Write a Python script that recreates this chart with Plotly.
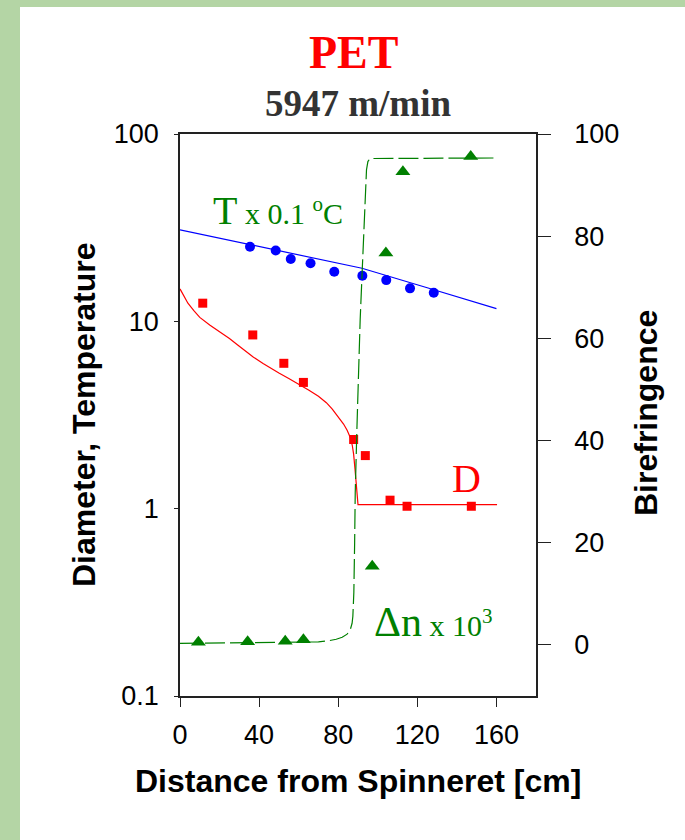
import plotly.graph_objects as go

# ---------------- data ----------------
# Temperature x 0.1 degC (left log axis)
temp_x = [35.4, 48.4, 56.0, 66.0, 78.0, 92.2, 104.3, 116.3, 128.3]
temp_y = [25.0, 23.9, 21.5, 20.4, 18.4, 17.5, 16.6, 15.0, 14.2]
temp_model_x = [0, 45, 92, 125, 160]
temp_model_y = [30.8, 24.4, 19.2, 15.1, 11.7]

# Diameter D (left log axis)
diam_x = [11.5, 36.8, 52.5, 62.4, 87.8, 93.7, 106.2, 114.8, 147.3]
diam_y = [12.5, 8.46, 5.97, 4.72, 2.34, 1.92, 1.11, 1.03, 1.03]
diam_model_x = [0, 2, 4, 7, 10, 15, 20, 25, 29, 33, 37, 42, 46, 50, 55, 60, 65, 70, 74,
                77, 80, 82.7, 84.5, 86.1, 87.1, 87.8, 88.5, 89.2, 89.7, 90, 160.3]
diam_model_y = [14.9, 13.6, 12.5, 11.4, 10.5, 9.55, 8.8, 8.1, 7.5, 6.95, 6.45, 5.95, 5.6,
                5.3, 4.95, 4.62, 4.3, 3.98, 3.68, 3.4, 3.1, 2.83, 2.62, 2.40, 2.18, 1.95,
                1.62, 1.30, 1.12, 1.05, 1.05]

# Birefringence x 10^3 (right axis)
bir_x = [9.3, 34.2, 53.2, 62.4, 97.2, 104.1, 112.7, 147.0]
bir_y = [0.5, 0.6, 0.7, 1.0, 15.4, 76.7, 92.6, 95.6]
bir_model_x = [0, 40, 60, 70, 75, 79, 82, 84.5, 86.1, 87.0, 87.4, 87.9, 88.3, 88.6, 89.5,
               90.4, 91.1, 92.2, 93.2, 93.6, 93.9, 94.3, 95.0, 96.0, 160.3]
bir_model_y = [0.3, 0.4, 0.45, 0.6, 0.8, 1.1, 1.5, 2.1, 3.0, 4.2, 5.6, 10.3, 20, 29.8, 43,
               55, 63.7, 73.9, 83.2, 87.5, 90.5, 93.0, 94.6, 95.2, 95.3]

x_ticks = [0, 40, 80, 120, 160]
left_ticks = [0.1, 1, 10, 100]
left_tick_text = ["0.1", "1", "10", "100"]
right_ticks = [0, 20, 40, 60, 80, 100]

# ---------------- layout geometry (pixels) ----------------
W, H = 685, 840
L, R, T, B = 180, 536, 134, 696
pw, ph = R - L, B - T


def px(x):
    return (x - L) / pw


def py(y):
    return (B - y) / ph


BLUE = "#0000ff"
RED = "#ff0000"
GREEN = "#008000"
AXC = "#222222"
SANS = "Arial, 'Liberation Sans', sans-serif"
SERIF = "'Times New Roman', 'Liberation Serif', serif"

fig = go.Figure()

fig.add_trace(go.Scatter(x=temp_model_x, y=temp_model_y, mode="lines",
                         line=dict(color=BLUE, width=1.2), showlegend=False))
fig.add_trace(go.Scatter(x=temp_x, y=temp_y, mode="markers",
                         marker=dict(color=BLUE, size=10, symbol="circle"), showlegend=False))
fig.add_trace(go.Scatter(x=diam_model_x, y=diam_model_y, mode="lines",
                         line=dict(color=RED, width=1.2), showlegend=False))
fig.add_trace(go.Scatter(x=diam_x, y=diam_y, mode="markers",
                         marker=dict(color=RED, size=9, symbol="square"), showlegend=False))
fig.add_trace(go.Scatter(x=bir_model_x, y=bir_model_y, mode="lines", yaxis="y2",
                         line=dict(color=GREEN, width=1.2, dash="20px,5px"),
                         showlegend=False))
fig.add_trace(go.Scatter(x=bir_x, y=bir_y, mode="markers", yaxis="y2",
                         marker=dict(color=GREEN, size=13, symbol="triangle-up"),
                         showlegend=False))

tickfont = dict(family=SANS, size=27, color="#000000")

fig.update_layout(
    width=W, height=H,
    margin=dict(l=L, r=W - R, t=T, b=H - B, pad=0),
    paper_bgcolor="#b4d5a5",
    plot_bgcolor="#ffffff",
    xaxis=dict(range=[0, 180], tickvals=x_ticks, ticks="outside", ticklen=9,
               tickcolor=AXC, tickwidth=1.3, showline=True, linecolor=AXC, linewidth=1.5,
               mirror=True, showgrid=False, zeroline=False, tickfont=tickfont,
               ticklabelstandoff=5),
    yaxis=dict(type="log", range=[-1, 2], tickvals=left_ticks, ticktext=left_tick_text,
               ticks="outside", ticklen=4, tickcolor=AXC, tickwidth=1.3,
               showline=True, linecolor=AXC, linewidth=1.5, showgrid=False,
               zeroline=False, tickfont=tickfont, ticklabelstandoff=10),
    yaxis2=dict(overlaying="y", side="right", range=[-10, 100], tickvals=right_ticks,
                ticks="outside", ticklen=13, tickcolor=AXC, tickwidth=1.3,
                showline=True, linecolor=AXC, linewidth=1.5, showgrid=False,
                zeroline=False, tickfont=tickfont, ticklabelstandoff=18),
    shapes=[dict(type="rect", xref="paper", yref="paper", layer="below",
                 x0=px(20), x1=px(700), y0=py(7), y1=py(850),
                 fillcolor="#ffffff", line=dict(width=0))],
)

ann = []
# Titles
ann.append(dict(text="<b>PET</b>", x=px(353), y=py(53), xanchor="center", yanchor="middle",
                font=dict(family=SERIF, size=46, color=RED)))
ann.append(dict(text="<b>5947 m/min</b>", x=px(358), y=py(103), xanchor="center",
                yanchor="middle", font=dict(family=SERIF, size=37, color="#333333")))
# Axis titles
ann.append(dict(text="<b>Distance from Spinneret [cm]</b>", x=px(358), y=py(781),
                xanchor="center", yanchor="middle", font=dict(family=SANS, size=32, color="#000")))
ann.append(dict(text="<b>Diameter, Temperature</b>", x=px(84), y=py(415), textangle=-90,
                xanchor="center", yanchor="middle", font=dict(family=SANS, size=32, color="#000")))
ann.append(dict(text="<b>Birefringence</b>", x=px(646), y=py(413), textangle=-90,
                xanchor="center", yanchor="middle", font=dict(family=SANS, size=32, color="#000")))
# Series labels
ann.append(dict(text="<span style='font-size:40px'>T</span> x 0.1 <sup>o</sup>C",
                x=px(211), y=py(211), xanchor="left", yanchor="middle",
                font=dict(family=SERIF, size=30, color=GREEN)))
ann.append(dict(text="D", x=px(466), y=py(478), xanchor="center", yanchor="middle",
                font=dict(family=SERIF, size=40, color=RED)))
ann.append(dict(text="<span style='font-size:42px'>Δn</span> x 10<sup>3</sup>",
                x=px(372), y=py(622), xanchor="left", yanchor="middle",
                font=dict(family=SERIF, size=30, color=GREEN)))

for a in ann:
    a.update(xref="paper", yref="paper", showarrow=False)
fig.update_layout(annotations=ann)

fig.write_html("out.html", config={"displayModeBar": False},
               post_script="document.body.style.margin='0';document.body.style.overflow='hidden';")
